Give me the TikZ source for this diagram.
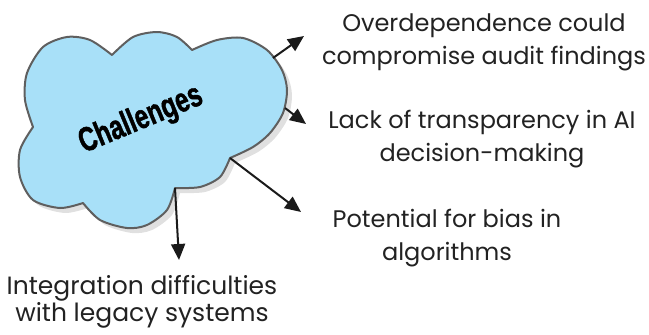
\documentclass[tikz,border=0pt]{standalone}
\usepackage{fontspec}
\setmainfont{Poppins}
\newfontface\headfont[FakeBold=1.6]{Liberation Sans Bold}
\usetikzlibrary{arrows.meta}
\definecolor{cloudfill}{RGB}{168,224,248}
\definecolor{cloudline}{RGB}{95,95,95}
\definecolor{shadowgray}{RGB}{224,224,224}
\definecolor{txt}{RGB}{34,34,34}
\definecolor{arr}{RGB}{26,26,26}
\tikzset{
  label/.style={text=txt, align=center, font=\fontsize{24}{33}\selectfont, inner sep=0pt},
  conn/.style={draw=arr, line width=2pt, -{Triangle[length=16pt,width=14pt]}},
}
\newcommand{\cloudpath}{
  plot[smooth] coordinates {(33,127) (25,100) (27,73) (43,47) (67,37) (90,40) (112,55)}
  -- plot[smooth] coordinates {(112,55) (133,37) (157,32) (177,37) (192,50)}
  -- plot[smooth] coordinates {(192,50) (217,40) (243,38) (267,50) (282,70) (287,90) (283,113) (270,133) (253,147) (230,158)}
  -- plot[smooth] coordinates {(230,158) (220,177) (200,187) (175,188)}
  -- plot[smooth] coordinates {(175,188) (167,210) (147,225) (127,228) (100,220) (83,203)}
  -- plot[smooth] coordinates {(83,203) (60,208) (33,200) (20,177) (20,150) (33,127)}
  -- cycle
}
\begin{document}
\begin{tikzpicture}[x=1pt,y=-1pt]
\useasboundingbox (0,0) rectangle (649,335);
% shadow
\fill[shadowgray, shift={(5,5)}] \cloudpath;
% cloud
\filldraw[fill=cloudfill, draw=cloudline, line width=2pt, line join=round] \cloudpath;
\node[rotate=22.5, text=black, inner sep=0pt] (head) at (141,120)
  {\scalebox{0.72}[1]{\headfont\fontsize{34}{34}\selectfont Challenges}};

\node[label] (t1) at (484,42) {Overdependence could\\compromise audit findings};
\node[label] (t2) at (482,139) {Lack of transparency in AI\\decision-making};
\node[label] (t3) at (447,238) {Potential for bias in\\algorithms};
\node[label, font=\fontsize{25}{27}\selectfont] (t4) at (142,302) {Integration difficulties\\with legacy systems};

\coordinate (s1) at (273,58);  \coordinate (e1) at (304,36);
\coordinate (s2) at (285,108); \coordinate (e2) at (306,124);
\coordinate (s3) at (230,158); \coordinate (e3) at (301,212);
\coordinate (s4) at (175,188); \coordinate (e4) at (179,260);
\draw[conn] (s1) -- (e1);
\draw[conn] (s2) -- (e2);
\draw[conn] (s3) -- (e3);
\draw[conn] (s4) -- (e4);
\end{tikzpicture}
\end{document}
